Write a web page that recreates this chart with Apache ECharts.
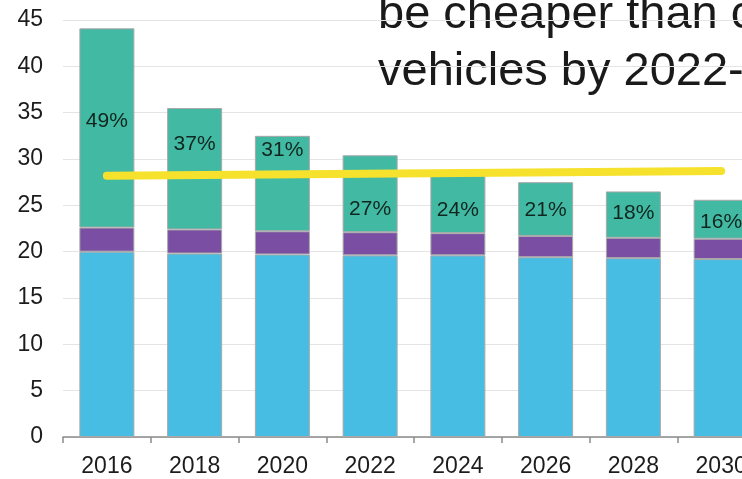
<!DOCTYPE html>
<html>
<head>
<meta charset="utf-8">
<script src="https://cdn.jsdelivr.net/npm/echarts@6/dist/echarts.min.js"></script>
<style>
  html, body { margin: 0; padding: 0; background: #ffffff; overflow: hidden; }
  #chart { width: 780px; height: 479px; }
</style>
</head>
<body>
<div id="chart"></div>
<script>
// Years on the category axis
const years = ['2016', '2018', '2020', '2022', '2024', '2026', '2028', '2030'];

// Stacked cost components (y axis units)
const baseCost = [20.0, 19.8, 19.7, 19.6, 19.6, 19.4, 19.3, 19.2];
const midCost = [2.6, 2.6, 2.5, 2.5, 2.4, 2.3, 2.2, 2.2];
const topCost = [21.5, 13.1, 10.3, 8.3, 6.3, 5.8, 5.0, 4.2];

// Share labels printed on the top segment
const shareLabels = ['49%', '37%', '31%', '27%', '24%', '21%', '18%', '16%'];

// Reference line: start and end levels
const refLine = [28.2, 28.7];

// Y axis ticks
const yMin = 0, yMax = 45, yStep = 5;

// Headline text (two lines)
const headline = ['be cheaper than conventional', 'vehicles by 2022-2024'];

// Vertical nudge for each share label inside its segment
const labelNudge = [-7, -25, -33, 15, 6, 1, -1, 3];

const chart = echarts.init(document.getElementById('chart'), null, { renderer: 'canvas' });

const tickFont = 'Liberation Sans';
const borderGray = '#a8a8a8';

function barSeries(name, values, color, withLabel) {
  return {
    name: name,
    type: 'bar',
    stack: 'total',
    barWidth: 55,
    itemStyle: { color: color, borderColor: borderGray, borderWidth: 1 },
    data: values.map((v, i) => {
      const item = { value: v };
      if (withLabel) {
        item.label = {
          show: true,
          position: 'inside',
          offset: [0, labelNudge[i]],
          formatter: shareLabels[i],
          color: '#10261f',
          fontSize: 21,
          fontFamily: tickFont
        };
      }
      return item;
    }),
    emphasis: { disabled: true },
    animation: false
  };
}

const green = barSeries('top', topCost, '#42b9a3', true);
green.markLine = {
  silent: true,
  symbol: ['none', 'none'],
  label: { show: false },
  lineStyle: { color: '#f6e22c', width: 8, type: 'solid', cap: 'round', opacity: 1 },
  data: [[{ coord: [0, refLine[0]] }, { coord: [years.length - 1, refLine[1]] }]],
  animation: false
};

const option = {
  backgroundColor: '#ffffff',
  animation: false,
  grid: { left: 63, top: 20, width: 702, height: 417, containLabel: false },
  xAxis: {
    type: 'category',
    data: years,
    axisLine: { show: true, lineStyle: { color: '#8a8a8a', width: 1.5 } },
    axisTick: { show: true, alignWithLabel: false, length: 6, lineStyle: { color: '#8a8a8a', width: 1.5 } },
    axisLabel: { color: '#1c1c1c', fontSize: 23, fontFamily: tickFont, margin: 18 },
    splitLine: { show: false }
  },
  yAxis: {
    type: 'value',
    min: yMin,
    max: yMax,
    interval: yStep,
    axisLine: { show: false },
    axisTick: { show: false },
    axisLabel: { color: '#1c1c1c', fontSize: 23, fontFamily: tickFont, margin: 20 },
    splitLine: { show: true, lineStyle: { color: '#e4e4e4', width: 1 } }
  },
  series: [
    barSeries('base', baseCost, '#47bde3', false),
    barSeries('mid', midCost, '#7a4ea2', false),
    green
  ],
  graphic: headline.map((t, i) => ({
    type: 'text',
    left: 378,
    top: i === 0 ? -8 : 49,
    silent: true,
    style: {
      text: t,
      fill: '#1a1a1a',
      fontSize: 47,
      fontFamily: 'Liberation Sans'
    }
  }))
};

chart.setOption(option);
</script>
</body>
</html>
